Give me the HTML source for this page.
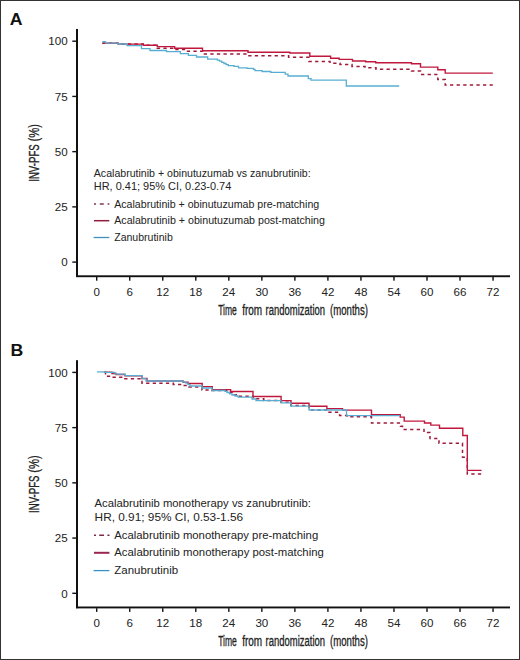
<!DOCTYPE html>
<html><head><meta charset="utf-8"><style>
html,body{margin:0;padding:0;background:#fff;}
svg{display:block;}
text{font-family:"Liberation Sans", sans-serif;}
</style></head><body>
<svg width="520" height="660" viewBox="0 0 520 660">
<rect x="0.5" y="0.5" width="519" height="659" fill="none" stroke="#333" stroke-width="1"/>
<text transform="translate(9.8 24.7) scale(1.04 1)" font-size="17" font-weight="bold" fill="#111">A</text>
<text transform="translate(10.4 356.3) scale(1.04 1)" font-size="17" font-weight="bold" fill="#111">B</text>
<rect x="76" y="29" width="2" height="248" fill="#111"/>
<rect x="76" y="275.3" width="434" height="1.9" fill="#111"/>
<rect x="72.3" y="261.40" width="4" height="1.4" fill="#111"/>
<text x="67.6" y="266.30" text-anchor="end" font-size="11.6" fill="#222">0</text>
<rect x="72.3" y="206.18" width="4" height="1.4" fill="#111"/>
<text x="67.6" y="211.08" text-anchor="end" font-size="11.6" fill="#222">25</text>
<rect x="72.3" y="150.95" width="4" height="1.4" fill="#111"/>
<text x="67.6" y="155.85" text-anchor="end" font-size="11.6" fill="#222">50</text>
<rect x="72.3" y="95.73" width="4" height="1.4" fill="#111"/>
<text x="67.6" y="100.63" text-anchor="end" font-size="11.6" fill="#222">75</text>
<rect x="72.3" y="40.50" width="4" height="1.4" fill="#111"/>
<text x="67.6" y="45.40" text-anchor="end" font-size="11.6" fill="#222">100</text>
<rect x="96.00" y="277" width="1.4" height="3.7" fill="#111"/>
<text x="96.70" y="295.5" text-anchor="middle" font-size="11.6" fill="#222">0</text>
<rect x="129.03" y="277" width="1.4" height="3.7" fill="#111"/>
<text x="129.73" y="295.5" text-anchor="middle" font-size="11.6" fill="#222">6</text>
<rect x="162.06" y="277" width="1.4" height="3.7" fill="#111"/>
<text x="162.76" y="295.5" text-anchor="middle" font-size="11.6" fill="#222">12</text>
<rect x="195.09" y="277" width="1.4" height="3.7" fill="#111"/>
<text x="195.79" y="295.5" text-anchor="middle" font-size="11.6" fill="#222">18</text>
<rect x="228.12" y="277" width="1.4" height="3.7" fill="#111"/>
<text x="228.82" y="295.5" text-anchor="middle" font-size="11.6" fill="#222">24</text>
<rect x="261.15" y="277" width="1.4" height="3.7" fill="#111"/>
<text x="261.85" y="295.5" text-anchor="middle" font-size="11.6" fill="#222">30</text>
<rect x="294.18" y="277" width="1.4" height="3.7" fill="#111"/>
<text x="294.88" y="295.5" text-anchor="middle" font-size="11.6" fill="#222">36</text>
<rect x="327.21" y="277" width="1.4" height="3.7" fill="#111"/>
<text x="327.91" y="295.5" text-anchor="middle" font-size="11.6" fill="#222">42</text>
<rect x="360.24" y="277" width="1.4" height="3.7" fill="#111"/>
<text x="360.94" y="295.5" text-anchor="middle" font-size="11.6" fill="#222">48</text>
<rect x="393.27" y="277" width="1.4" height="3.7" fill="#111"/>
<text x="393.97" y="295.5" text-anchor="middle" font-size="11.6" fill="#222">54</text>
<rect x="426.30" y="277" width="1.4" height="3.7" fill="#111"/>
<text x="427.00" y="295.5" text-anchor="middle" font-size="11.6" fill="#222">60</text>
<rect x="459.33" y="277" width="1.4" height="3.7" fill="#111"/>
<text x="460.03" y="295.5" text-anchor="middle" font-size="11.6" fill="#222">66</text>
<rect x="492.36" y="277" width="1.4" height="3.7" fill="#111"/>
<text x="493.06" y="295.5" text-anchor="middle" font-size="11.6" fill="#222">72</text>
<text x="218.2" y="314.7" textLength="18.6" lengthAdjust="spacingAndGlyphs" font-size="14" fill="#222" stroke="#222" stroke-width="0.3">Time</text>
<text x="242.2" y="314.7" textLength="20.0" lengthAdjust="spacingAndGlyphs" font-size="14" fill="#222" stroke="#222" stroke-width="0.3">from</text>
<text x="265.6" y="314.7" textLength="59.4" lengthAdjust="spacingAndGlyphs" font-size="14" fill="#222" stroke="#222" stroke-width="0.3">randomization</text>
<text x="330.0" y="314.7" textLength="38.0" lengthAdjust="spacingAndGlyphs" font-size="14" fill="#222" stroke="#222" stroke-width="0.3">(months)</text>
<text transform="translate(38.7 181.8) rotate(-90) scale(0.69 1)" font-size="14" fill="#222" stroke="#222" stroke-width="0.3">INV-PFS</text>
<text transform="translate(38.9 141.5) rotate(-90) scale(0.8 1)" font-size="14" fill="#222" stroke="#222" stroke-width="0.2">(%)</text>
<rect x="76" y="360.2" width="2" height="248" fill="#111"/>
<rect x="76" y="606.5" width="434" height="1.9" fill="#111"/>
<rect x="72.3" y="592.60" width="4" height="1.4" fill="#111"/>
<text x="67.6" y="597.50" text-anchor="end" font-size="11.6" fill="#222">0</text>
<rect x="72.3" y="537.37" width="4" height="1.4" fill="#111"/>
<text x="67.6" y="542.27" text-anchor="end" font-size="11.6" fill="#222">25</text>
<rect x="72.3" y="482.15" width="4" height="1.4" fill="#111"/>
<text x="67.6" y="487.05" text-anchor="end" font-size="11.6" fill="#222">50</text>
<rect x="72.3" y="426.92" width="4" height="1.4" fill="#111"/>
<text x="67.6" y="431.82" text-anchor="end" font-size="11.6" fill="#222">75</text>
<rect x="72.3" y="371.70" width="4" height="1.4" fill="#111"/>
<text x="67.6" y="376.60" text-anchor="end" font-size="11.6" fill="#222">100</text>
<rect x="96.00" y="608.2" width="1.4" height="3.7" fill="#111"/>
<text x="96.70" y="626.7" text-anchor="middle" font-size="11.6" fill="#222">0</text>
<rect x="129.03" y="608.2" width="1.4" height="3.7" fill="#111"/>
<text x="129.73" y="626.7" text-anchor="middle" font-size="11.6" fill="#222">6</text>
<rect x="162.06" y="608.2" width="1.4" height="3.7" fill="#111"/>
<text x="162.76" y="626.7" text-anchor="middle" font-size="11.6" fill="#222">12</text>
<rect x="195.09" y="608.2" width="1.4" height="3.7" fill="#111"/>
<text x="195.79" y="626.7" text-anchor="middle" font-size="11.6" fill="#222">18</text>
<rect x="228.12" y="608.2" width="1.4" height="3.7" fill="#111"/>
<text x="228.82" y="626.7" text-anchor="middle" font-size="11.6" fill="#222">24</text>
<rect x="261.15" y="608.2" width="1.4" height="3.7" fill="#111"/>
<text x="261.85" y="626.7" text-anchor="middle" font-size="11.6" fill="#222">30</text>
<rect x="294.18" y="608.2" width="1.4" height="3.7" fill="#111"/>
<text x="294.88" y="626.7" text-anchor="middle" font-size="11.6" fill="#222">36</text>
<rect x="327.21" y="608.2" width="1.4" height="3.7" fill="#111"/>
<text x="327.91" y="626.7" text-anchor="middle" font-size="11.6" fill="#222">42</text>
<rect x="360.24" y="608.2" width="1.4" height="3.7" fill="#111"/>
<text x="360.94" y="626.7" text-anchor="middle" font-size="11.6" fill="#222">48</text>
<rect x="393.27" y="608.2" width="1.4" height="3.7" fill="#111"/>
<text x="393.97" y="626.7" text-anchor="middle" font-size="11.6" fill="#222">54</text>
<rect x="426.30" y="608.2" width="1.4" height="3.7" fill="#111"/>
<text x="427.00" y="626.7" text-anchor="middle" font-size="11.6" fill="#222">60</text>
<rect x="459.33" y="608.2" width="1.4" height="3.7" fill="#111"/>
<text x="460.03" y="626.7" text-anchor="middle" font-size="11.6" fill="#222">66</text>
<rect x="492.36" y="608.2" width="1.4" height="3.7" fill="#111"/>
<text x="493.06" y="626.7" text-anchor="middle" font-size="11.6" fill="#222">72</text>
<text x="218.2" y="645.9" textLength="18.6" lengthAdjust="spacingAndGlyphs" font-size="14" fill="#222" stroke="#222" stroke-width="0.3">Time</text>
<text x="242.2" y="645.9" textLength="20.0" lengthAdjust="spacingAndGlyphs" font-size="14" fill="#222" stroke="#222" stroke-width="0.3">from</text>
<text x="265.6" y="645.9" textLength="59.4" lengthAdjust="spacingAndGlyphs" font-size="14" fill="#222" stroke="#222" stroke-width="0.3">randomization</text>
<text x="330.0" y="645.9" textLength="38.0" lengthAdjust="spacingAndGlyphs" font-size="14" fill="#222" stroke="#222" stroke-width="0.3">(months)</text>
<text transform="translate(38.7 513.0) rotate(-90) scale(0.69 1)" font-size="14" fill="#222" stroke="#222" stroke-width="0.3">INV-PFS</text>
<text transform="translate(38.9 472.7) rotate(-90) scale(0.8 1)" font-size="14" fill="#222" stroke="#222" stroke-width="0.2">(%)</text>
<text x="93.8" y="177.2" font-size="10.8" fill="#222" textLength="216.8" lengthAdjust="spacingAndGlyphs">Acalabrutinib + obinutuzumab vs zanubrutinib:</text>
<text x="93.8" y="190.3" font-size="10.8" fill="#222" textLength="137.5" lengthAdjust="spacingAndGlyphs">HR, 0.41; 95% CI, 0.23-0.74</text>
<text x="114.2" y="207.5" font-size="10.8" fill="#222" textLength="205" lengthAdjust="spacingAndGlyphs">Acalabrutinib + obinutuzumab pre-matching</text>
<text x="114.2" y="223.8" font-size="10.8" fill="#222" textLength="210.8" lengthAdjust="spacingAndGlyphs">Acalabrutinib + obinutuzumab post-matching</text>
<text x="114.2" y="240.6" font-size="10.8" fill="#222" textLength="58.6" lengthAdjust="spacingAndGlyphs">Zanubrutinib</text>
<text x="94.6" y="506.8" font-size="11.3" fill="#222" textLength="216.3" lengthAdjust="spacingAndGlyphs">Acalabrutinib monotherapy vs zanubrutinib:</text>
<text x="94.6" y="521.2" font-size="11.3" fill="#222" textLength="148.5" lengthAdjust="spacingAndGlyphs">HR, 0.91; 95% CI, 0.53-1.56</text>
<text x="114.3" y="538.6" font-size="11.3" fill="#222" textLength="203.9" lengthAdjust="spacingAndGlyphs">Acalabrutinib monotherapy pre-matching</text>
<text x="114.3" y="556.3" font-size="11.3" fill="#222" textLength="209.5" lengthAdjust="spacingAndGlyphs">Acalabrutinib monotherapy post-matching</text>
<text x="114.3" y="574.0" font-size="11.3" fill="#222" textLength="63.8" lengthAdjust="spacingAndGlyphs">Zanubrutinib</text>
<path d="M94 204.1 h2 M99.8 204.1 h4 M107.6 204.1 h1.8" stroke="#7e3a58" stroke-width="1.5" fill="none"/>
<path d="M94 220.7 H109.3" stroke="#901c40" stroke-width="1.5" fill="none"/>
<path d="M93.6 237.5 H109.3" stroke="#4090c0" stroke-width="1.3" fill="none"/>
<path d="M94 535.3 h2 M99.2 535.3 h4.8 M107.4 535.3 h2.1" stroke="#7a2a48" stroke-width="1.5" fill="none"/>
<path d="M94 552.8 H109.4" stroke="#9a2550" stroke-width="2" fill="none"/>
<path d="M93.6 570.6 H109.4" stroke="#3a92c4" stroke-width="1.3" fill="none"/>
<path d="M102.4 43.2H118.0V44.1H143.3V45.2H157.3V48.2H174.6V49.5H187.5V51.2H202.5V54.1H248.0V55.8H288.6V57.3H309.0V61.5H330.0V63.2H340.0V64.6H352.0V66.4H365.0V67.8H376.0V69.3H411.5V71.1H420.5V74.4H437.8V79.5H445.2V85.0H492.8" stroke="#a01a3a" stroke-width="1.5" fill="none" stroke-dasharray="3.3 3.3"/>
<path d="M102.4 43.2H118.0V44.1H143.3V45.2H157.3V46.6H174.6V48.3H202.5V50.7H248.0V52.2H289.8V53.0H309.8V56.2H330.6V58.3H339.2V59.4H352.5V61.0H365.6V61.7H375.7V62.8H411.5V63.7H420.5V67.1H437.8V69.8H445.2V73.1H492.8" stroke="#c0183c" stroke-width="1.4" fill="none"/>
<path d="M102.4 41.6H105.5V43.2H118.0V44.0H127.0V45.6H141.5V48.7H150.0V50.5H166.5V51.6H180.4V53.6H188.4V55.3H196.5V57.0H207.7V59.1H217.3V60.1H219.5V61.2H221.7V62.3H223.9V63.5H226.1V64.6H228.3V65.7H234.0V66.4H238.5V67.8H247.1V68.4H253.5V69.4H255.0V70.6H262.1V71.5H270.8V72.3H285.2V74.2H288.0V76.0H308.3V78.6H311.0V80.2H346.3V86.0H399.2" stroke="#58aed2" stroke-width="1.3" fill="none"/>
<path d="M104.3 372.3H105.5V376.3H111.8V377.3H123.4V378.8H142.0V383.3H173.3V384.4H183.0V385.5H189.0V387.1H202.0V390.0H212.0V390.6H226.7V392.5H232.5V394.8H236.3V396.2H253.0V398.8H263.8V400.6H281.0V402.3H291.0V405.5H309.0V410.0H327.0V412.3H339.6V415.5H347.0V416.8H371.5V423.0H400.5V426.3H402.5V429.5H424.0V432.5H430.0V438.5H439.0V443.3H462.5V457.2H467.3V473.9H481.6" stroke="#a01a3a" stroke-width="1.5" fill="none" stroke-dasharray="3.3 3.3"/>
<path d="M104.3 372.3H112.0V373.5H116.0V374.5H125.0V375.7H142.0V378.5H147.0V381.0H183.0V382.2H188.0V383.5H202.2V386.6H212.3V389.6H230.6V391.5H253.0V396.5H281.1V400.6H291.0V403.3H309.0V406.2H326.9V408.6H342.5V410.1H371.5V414.8H400.2V417.1H404.2V421.1H424.5V423.0H430.8V425.1H439.5V428.2H462.8V435.5H467.3V470.4H481.6" stroke="#c0183c" stroke-width="1.4" fill="none"/>
<path d="M97.0 371.8H104.3V372.3H115.0V374.2H125.0V375.6H142.1V378.7H146.0V381.0H183.0V382.1H186.0V383.2H188.0V384.6H190.0V386.0H202.0V388.0H212.0V390.5H225.0V391.3H227.0V392.5H229.5V393.8H232.0V395.0H235.0V396.0H238.0V397.2H252.0V399.0H256.0V400.6H281.0V402.9H291.0V406.2H309.0V410.0H346.5V415.6H400.0" stroke="#58aed2" stroke-width="1.3" fill="none"/>
</svg>
</body></html>
